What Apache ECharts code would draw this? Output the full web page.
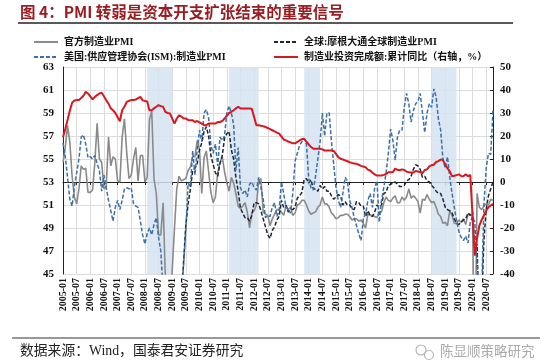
<!DOCTYPE html>
<html><head><meta charset="utf-8">
<script src="https://cdn.jsdelivr.net/npm/echarts@6/dist/echarts.min.js"></script>
<style>html,body{margin:0;padding:0;background:#fff}#c{width:550px;height:363px}</style>
</head><body><div id="c"></div>
<script>
// Monthly categories 2005-01 .. 2020-10
const months = [];
for (let y = 2005; y <= 2020; y++) {
  for (let m = 1; m <= 12; m++) {
    if (y === 2020 && m > 10) break;
    months.push(y + '-' + String(m).padStart(2, '0'));
  }
}

// 官方制造业PMI (left axis)
const officialPMI = [
  54.7, 56.0, 57.9, 56.5, 53.5, 51.7, 51.1, 52.4, 54.4, 54.1, 54.2, 52.1,
  52.1, 52.3, 54.7, 58.1, 55.0, 54.7, 52.4, 52.6, 56.9, 54.4, 55.2, 55.0,
  53.1, 53.0, 56.9, 58.5, 55.6, 53.3, 53.6, 55.0, 56.0, 53.1, 55.3, 55.3,
  53.0, 53.4, 58.4, 59.2, 53.3, 52.0, 48.4, 48.4, 51.2, 44.6, 38.8, 41.2,
  45.3, 49.0, 52.4, 53.5, 53.1, 53.2, 53.3, 54.0, 54.3, 55.2, 55.2, 56.6,
  55.8, 52.0, 55.1, 55.7, 53.9, 52.1, 51.2, 51.7, 53.8, 54.7, 55.2, 53.9,
  52.9, 52.2, 53.4, 52.9, 52.0, 50.9, 50.7, 50.9, 51.2, 50.4, 49.0, 50.3,
  50.5, 51.0, 53.1, 53.3, 50.4, 50.2, 50.1, 49.2, 49.8, 50.2, 50.6, 50.6,
  50.4, 50.1, 50.9, 50.6, 50.8, 50.1, 50.3, 51.0, 51.1, 51.4, 51.4, 51.0,
  50.5, 50.2, 50.3, 50.4, 50.8, 51.0, 51.7, 51.1, 51.1, 50.8, 50.3, 50.1,
  49.8, 49.9, 50.1, 50.1, 50.2, 50.2, 50.0, 49.7, 49.8, 49.8, 49.6, 49.7,
  49.4, 49.0, 50.2, 50.1, 50.1, 50.0, 49.9, 50.4, 50.4, 51.2, 51.7, 51.4,
  51.3, 51.6, 51.8, 51.2, 51.2, 51.7, 51.4, 51.7, 52.4, 51.6, 51.8, 51.6,
  51.3, 50.3, 51.5, 51.4, 51.9, 51.5, 51.2, 51.3, 50.8, 50.2, 50.0, 49.4,
  49.5, 49.2, 50.5, 50.1, 49.4, 49.4, 49.7, 49.5, 49.8, 49.3, 50.2, 50.2,
  50.0, 35.7, 52.0, 50.8, 50.6, 50.9, 51.1, 51.0, 51.5, 51.4
];

// 全球:摩根大通全球制造业PMI (left axis) — no data drawn before 2009
const globalPMI = [
  null, null, null, null, null, null, null, null, null, null, null, null,
  null, null, null, null, null, null, null, null, null, null, null, null,
  null, null, null, null, null, null, null, null, null, null, null, null,
  null, null, null, null, null, null, null, null, null, null, null, null,
  34.4, 35.1, 36.9, 40.1, 42.9, 46.0, 49.3, 51.1, 52.4, 54.0, 54.2, 54.6,
  55.8, 56.4, 57.4, 57.8, 57.0, 55.3, 54.5, 53.8, 53.5, 54.6, 55.3, 56.8,
  57.2, 57.4, 55.8, 55.0, 53.4, 52.2, 50.7, 50.3, 49.9, 49.9, 49.6, 50.1,
  51.2, 51.2, 51.1, 50.5, 49.8, 49.1, 48.4, 48.1, 48.8, 49.1, 49.7, 50.0,
  51.4, 50.8, 51.0, 50.4, 50.6, 50.6, 50.8, 51.6, 51.8, 52.1, 53.2, 53.3,
  52.9, 53.2, 52.4, 52.4, 52.2, 52.7, 52.4, 52.6, 52.2, 52.2, 51.8, 51.5,
  51.7, 51.9, 51.8, 51.0, 51.3, 51.0, 51.0, 50.7, 50.6, 51.3, 51.2, 50.9,
  50.9, 50.0, 50.5, 50.1, 50.0, 50.4, 51.0, 50.8, 51.0, 52.0, 52.1, 52.7,
  52.8, 52.9, 53.0, 52.8, 52.6, 52.6, 52.7, 53.1, 53.2, 53.5, 54.1, 54.5,
  54.4, 54.1, 53.4, 53.5, 53.1, 53.0, 52.7, 52.5, 52.2, 52.0, 52.0, 51.5,
  50.8, 50.6, 50.5, 50.3, 49.8, 49.4, 49.3, 49.5, 49.7, 49.8, 50.3, 50.1,
  50.4, 47.1, 47.6, 39.6, 42.4, 47.9, 50.6, 51.8, 52.4, 53.0
];

// 美国:供应管理协会(ISM):制造业PMI (left axis)
const ismPMI = [
  56.4, 55.2, 53.4, 51.5, 50.9, 52.6, 53.8, 55.0, 56.9, 57.1, 56.3, 55.1,
  55.2, 55.0, 55.3, 54.6, 54.0, 52.2, 53.6, 52.5, 51.4, 50.5, 49.6, 50.8,
  51.4, 50.6, 51.4, 52.4, 52.5, 52.4, 52.5, 51.1, 50.9, 50.8, 49.6, 48.4,
  47.6, 48.5, 49.0, 48.4, 49.3, 49.9, 48.2, 47.0, 43.5, 38.9, 36.2, 32.4,
  35.6, 35.8, 36.3, 40.1, 42.8, 45.8, 48.9, 52.9, 52.6, 55.7, 53.6, 55.9,
  57.5, 56.5, 59.0, 59.3, 58.6, 56.2, 55.5, 56.3, 54.4, 56.9, 56.6, 57.0,
  59.0, 59.6, 59.0, 58.0, 54.0, 56.0, 52.5, 52.0, 52.3, 51.7, 52.8, 53.0,
  52.5, 52.3, 53.4, 52.5, 51.5, 49.9, 50.1, 50.0, 50.8, 51.2, 50.0, 50.5,
  53.0, 52.0, 50.8, 50.6, 50.3, 52.0, 54.8, 55.5, 56.2, 56.5, 56.8, 56.3,
  53.3, 52.5, 52.3, 53.5, 55.0, 56.5, 59.0, 57.0, 59.0, 59.0, 56.5, 54.5,
  52.5, 51.4, 50.8, 52.0, 53.4, 53.1, 51.4, 50.8, 49.9, 49.2, 48.5, 47.9,
  49.8, 50.2, 51.4, 52.0, 50.8, 52.5, 53.1, 49.5, 51.4, 52.5, 53.8, 55.5,
  57.6, 56.6, 54.9, 56.9, 57.5, 57.5, 59.5, 60.7, 59.8, 58.2, 59.2, 59.8,
  60.0, 60.7, 59.0, 57.3, 59.0, 59.8, 59.5, 61.1, 60.4, 58.5, 57.5, 55.0,
  54.2, 55.2, 53.4, 52.0, 50.8, 49.6, 48.7, 48.2, 47.9, 48.3, 47.7, 49.5,
  50.0, 49.5, 46.0, 41.5, 43.1, 51.0, 54.2, 55.5, 55.4, 59.3
];

// 制造业投资完成额:累计同比 (right axis, %); January has no separate release
const mfgFAI = [
  19.5, 23.0, 27.0, 31.0, 34.5, 35.4, 35.6, 35.6, 36.5, 37.5, 39.2, 38.5,
  null, 35.9, 37.0, 37.8, 38.5, 38.8, 37.3, 35.5, 34.1, 32.0, 31.2, 30.0,
  null, 26.4, 31.2, 32.7, 34.8, 35.3, 35.6, 35.6, 35.9, 36.5, 37.0, 35.5,
  null, 35.0, 31.2, 31.2, 32.0, 32.7, 33.4, 33.0, 32.7, 30.5, 30.0, 29.8,
  null, 25.4, 27.6, 29.0, 28.5, 27.6, 27.6, 27.0, 26.8, 26.8, 26.1, 26.5,
  null, 25.4, 24.7, 24.7, 25.4, 25.4, 25.4, 25.4, 26.1, 26.1, 26.5, 27.6,
  null, 30.0, 30.5, 31.2, 32.0, 32.7, 32.0, 32.0, 32.0, 32.0, 32.0, 31.8,
  null, 24.7, 24.7, 24.5, 24.3, 23.9, 23.5, 23.0, 22.5, 22.0, 21.5, 21.0,
  null, 18.5, 18.1, 17.6, 17.2, 16.8, 16.8, 17.4, 18.1, 18.6, 18.8, 17.5,
  null, 15.2, 14.5, 14.5, 14.5, 14.5, 14.2, 13.7, 13.7, 13.7, 13.7, 13.5,
  null, 10.8, 10.1, 9.8, 9.4, 9.0, 8.6, 8.3, 8.0, 7.9, 7.5, 7.0,
  null, 6.4, 5.4, 5.0, 4.0, 3.3, 2.8, 2.8, 2.8, 3.1, 3.5, 4.2,
  null, 4.3, 5.8, 5.3, 5.1, 5.5, 5.2, 4.5, 4.2, 4.1, 4.1, 4.8,
  null, 4.3, 3.8, 5.2, 5.5, 6.8, 7.3, 7.5, 8.7, 9.1, 9.8, 9.5,
  null, 5.9, 4.6, 2.5, 2.7, 3.0, 3.3, 2.6, 2.5, 3.4, 2.5, 3.1,
  null, -32.0, -24.5, -19.0, -16.5, -14.5, -12.5, -11.0, -10.2, -9.5
];

// shaded periods
const shadedPeriods = [
  ['2008-02', '2009-01'],
  ['2011-02', '2012-03'],
  ['2013-11', '2014-06'],
  ['2018-07', '2019-06']
];

// axis ticks
const leftTicks = { min: 45, max: 63, step: 2 };
const rightTicks = { min: -40, max: 50, step: 10 };

const names = ['官方制造业PMI', '全球:摩根大通全球制造业PMI', '美国:供应管理协会(ISM):制造业PMI', '制造业投资完成额:累计同比（右轴，%）'];

const every6 = function (idx) { return idx % 6 === 0; };
const numFont = '"Liberation Serif","Times New Roman",serif';
const cjkFont = '"Liberation Serif","Noto Sans CJK SC",serif';

const chart = echarts.init(document.getElementById('c'), null, { renderer: 'canvas' });
const legendBase = {
  orient: 'horizontal', itemWidth: 24, itemHeight: 10, itemGap: 4, selectedMode: false, padding: 0,
  itemStyle: { opacity: 0 },
  textStyle: { fontSize: 10, fontWeight: 'bold', color: '#111', fontFamily: cjkFont, padding: [0, 0, 0, 1] }
};
chart.setOption({
  animation: false,
  backgroundColor: '#fff',
  grid: { left: 63, right: 57, top: 67, bottom: 89 },
  legend: [
    Object.assign({ left: 33, top: 37, data: [names[0]] }, legendBase),
    Object.assign({ left: 273, top: 37, data: [names[1]] }, legendBase),
    Object.assign({ left: 33, top: 52, data: [names[2]] }, legendBase),
    Object.assign({ left: 273, top: 52, data: [names[3]] }, legendBase)
  ],
  xAxis: {
    type: 'category', data: months, boundaryGap: false,
    axisLine: { lineStyle: { color: '#222', width: 1 } },
    axisTick: { interval: every6, length: 3, lineStyle: { color: '#222' } },
    axisLabel: { interval: every6, rotate: 90, fontSize: 10, fontWeight: 'bold', fontFamily: numFont, color: '#111', margin: 4 },
    splitLine: { show: true, interval: every6, lineStyle: { color: '#dcdcdc', width: 1 } }
  },
  yAxis: [
    {
      type: 'value', min: leftTicks.min, max: leftTicks.max, interval: leftTicks.step,
      axisLine: { show: true, lineStyle: { color: '#222' } },
      axisTick: { show: false },
      axisLabel: { fontSize: 11, fontWeight: 'bold', fontFamily: numFont, color: '#111', margin: 9 },
      splitLine: { lineStyle: { color: '#dcdcdc', width: 1 } }
    },
    {
      type: 'value', position: 'right', min: rightTicks.min, max: rightTicks.max, interval: rightTicks.step,
      axisLine: { show: true, lineStyle: { color: '#222' } },
      axisTick: { show: true, inside: true, length: 3, lineStyle: { color: '#222' } },
      axisLabel: { fontSize: 11, fontWeight: 'bold', fontFamily: numFont, color: '#111', margin: 7 },
      splitLine: { show: false }
    }
  ],
  series: [
    {
      type: 'line', data: [], silent: true, z: 1,
      markArea: {
        silent: true,
        itemStyle: { color: 'rgba(214,227,242,0.85)' },
        data: shadedPeriods.map(p => [{ xAxis: p[0] }, { xAxis: p[1] }])
      }
    },
    {
      name: names[0], type: 'line', data: officialPMI, symbol: 'none', z: 3,
      lineStyle: { color: '#8a8a8a', width: 1.6 }, itemStyle: { color: '#8a8a8a' }
    },
    {
      name: names[1], type: 'line', data: globalPMI, symbol: 'none', z: 4,
      lineStyle: { color: '#1b2535', width: 1.5, type: [4, 2] }, itemStyle: { color: '#1b2535' }
    },
    {
      name: names[2], type: 'line', data: ismPMI, symbol: 'none', z: 5,
      lineStyle: { color: '#3b6fa8', width: 1.5, type: [4, 2] }, itemStyle: { color: '#3b6fa8' }
    },
    {
      name: names[3], type: 'line', yAxisIndex: 1, data: mfgFAI, symbol: 'none', connectNulls: true, z: 6,
      lineStyle: { color: '#d7191f', width: 2 }, itemStyle: { color: '#d7191f' }
    }
  ],
  graphic: [
    { type: 'text', left: 20, top: 4, style: { text: '图 4：PMI 转弱是资本开支扩张结束的重要信号', font: 'bold 15.5px "Noto Sans CJK SC"', fill: '#9a1d22' } },
    { type: 'line', shape: { x1: 18, y1: 23, x2: 513, y2: 23 }, style: { stroke: '#222', lineWidth: 1.5 } },
    { type: 'line', shape: { x1: 12, y1: 338, x2: 540, y2: 338 }, style: { stroke: '#333', lineWidth: 1.2 } },
    { type: 'text', left: 20, top: 344, style: { text: '数据来源：Wind，国泰君安证券研究', font: '13.8px "Liberation Serif","Noto Sans CJK SC"', fill: '#222' } },
    { type: 'circle', shape: { cx: 421, cy: 350, r: 5 }, style: { fill: 'none', stroke: '#b5b5b5', lineWidth: 1.2 } },
    { type: 'circle', shape: { cx: 429, cy: 355, r: 4.5 }, style: { fill: 'none', stroke: '#b5b5b5', lineWidth: 1.2 } },
    { type: 'text', left: 440, top: 344, style: { text: '陈显顺策略研究', font: '13.5px "Noto Sans CJK SC"', fill: '#aaaaaa' } }
  ]
});
</script>
</body></html>
